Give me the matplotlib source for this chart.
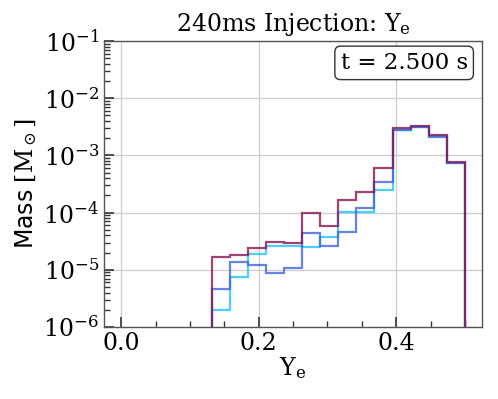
import numpy as np
import matplotlib
matplotlib.use("Agg")
import matplotlib.pyplot as plt

plt.rcParams['font.family'] = ['DejaVu Serif']
plt.rcParams['mathtext.fontset'] = 'dejavuserif'

# Histogram bin edges (Y_e) and per-bin masses [M_sun]
bin_edges = np.linspace(0.0, 0.5, 20)
first_bin = 5
mass_red = [1.65e-5, 1.85e-5, 2.36e-5, 3.1e-5, 2.96e-5, 1.0e-4, 5.9e-5,
            1.65e-4, 2.3e-4, 6.0e-4, 3.0e-3, 3.3e-3, 2.25e-3, 7.7e-4]
mass_blue = [4.6e-6, 1.36e-5, 1.22e-5, 8.7e-6, 1.08e-5, 4.4e-5, 2.6e-5,
             4.5e-5, 1.2e-4, 3.45e-4, 2.8e-3, 3.18e-3, 2.14e-3, 7.5e-4]
mass_cyan = [1.95e-6, 7.4e-6, 1.87e-5, 2.6e-5, 2.6e-5, 2.5e-5, 3.8e-5,
             1.02e-4, 1.02e-4, 2.5e-4, 2.75e-3, 3.18e-3, 2.19e-3, 7.5e-4]
series = [(mass_cyan, '#1ec3ff'), (mass_blue, '#3f63e0'), (mass_red, '#87154f')]

title = "240ms Injection: $\\mathrm{Y_e}$"
time_label = "t = 2.500 s"

fig = plt.figure(figsize=(4.98, 3.99), dpi=100)
ax = fig.add_axes([0.2088, 0.1805, 0.968 - 0.2088, 0.8972 - 0.1805])

edges = bin_edges[first_bin:]
centers = 0.5 * (edges[:-1] + edges[1:])
for vals, col in series:
    ax.hist(centers, bins=edges, weights=vals, histtype='step',
            color=col, lw=1.6, alpha=0.8, log=True)

ax.set_yscale('log')
ax.set_ylim(1e-6, 1e-1)
ax.set_xlim(-0.025, 0.525)
ax.set_xticks([0.0, 0.2, 0.4])
ax.set_xticks(np.arange(0.0, 0.55, 0.05), minor=True)
ax.grid(True, which='major', color='#cccccc', lw=0.9)
ax.set_axisbelow(True)

ax.tick_params(which='both', direction='in', top=False, right=False,
               labelsize=17, color='#333333')
ax.tick_params(which='major', length=7, width=1.2)
ax.tick_params(which='minor', length=4, width=1.0)
for s in ax.spines.values():
    s.set_color('#555555')
    s.set_linewidth(1.0)

ax.set_title(title, fontsize=17, pad=7)
ax.set_xlabel("$\\mathrm{Y_e}$", fontsize=17, labelpad=0)
ax.set_ylabel("Mass $[\\mathrm{M}_\\odot]$", fontsize=17, family='DejaVu Sans', labelpad=3)

ax.text(0.962, 0.962, time_label, transform=ax.transAxes, ha='right', va='top',
        fontsize=16.5, bbox=dict(boxstyle='round,pad=0.25', fc='white', ec='#333333', lw=1.0))

fig.savefig('out.png', dpi=100)
